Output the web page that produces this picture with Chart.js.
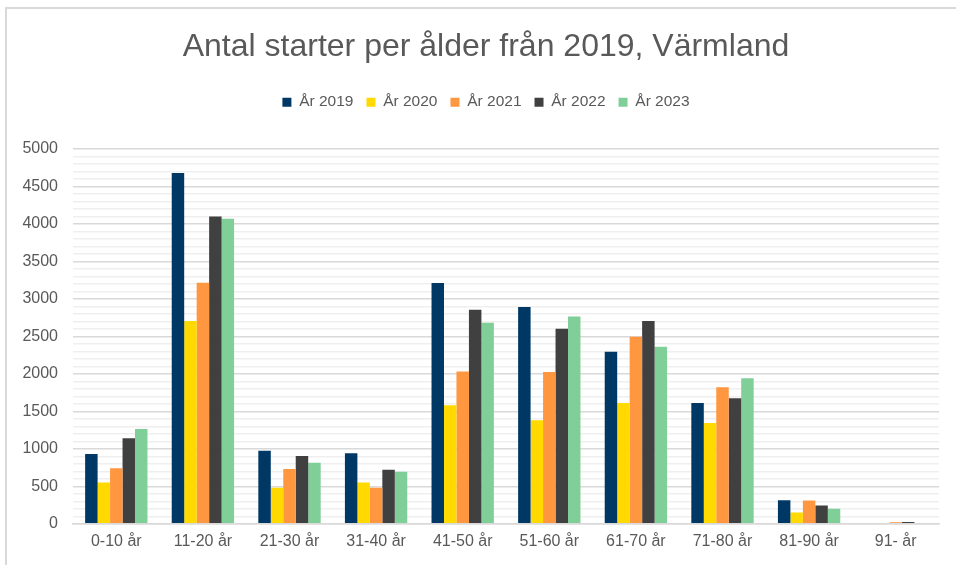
<!DOCTYPE html>
<html>
<head>
<meta charset="utf-8">
<script src="https://cdn.jsdelivr.net/npm/chart.js@4/dist/chart.umd.min.js"></script>
<style>
  html, body { margin: 0; padding: 0; background: #fff; overflow: hidden; }
  #frame { position: absolute; left: 5px; top: 7px; width: 1000px; height: 600px;
           border-left: 2px solid #d9d9d9; border-top: 2px solid #d9d9d9; }
  #c { position: absolute; left: 0; top: 0; }
</style>
</head>
<body>
<div id="frame"></div>
<canvas id="c" width="956" height="565"></canvas>
<script>
// Åldersgrupper och antal starter per år
const categories = ['0-10 år', '11-20 år', '21-30 år', '31-40 år', '41-50 år', '51-60 år', '61-70 år', '71-80 år', '81-90 år', '91- år'];
const seriesNames = ['År 2019', 'År 2020', 'År 2021', 'År 2022', 'År 2023'];
const y2019 = [930, 4680, 975, 940, 3210, 2890, 2295, 1610, 315, 0];
const y2020 = [550, 2705, 480, 550, 1580, 1380, 1610, 1345, 150, 0];
const y2021 = [740, 3215, 730, 480, 2030, 2025, 2495, 1820, 310, 20];
const y2022 = [1140, 4100, 905, 720, 2855, 2600, 2705, 1675, 245, 25];
const y2023 = [1265, 4070, 815, 695, 2680, 2765, 2360, 1940, 200, 10];
const colors = ['#003865', '#ffd900', '#ff9640', '#404040', '#80cf98'];

const textColor = '#595959';
const fontFamily = '"Liberation Sans", Arial, sans-serif';

// extra luft under legenden + låt y-etiketterna rita utanför padding
const layoutTweaks = {
    id: 'layoutTweaks',
    beforeInit(chart) {
        const fit = chart.legend.fit;
        chart.legend.fit = function () {
            fit.bind(chart.legend)();
            this.height += 29;
        };
    },
    afterLayout(chart) {
        chart.scales.y.left = 0; // annars klipps etiketterna
    }
};

new Chart(document.getElementById('c'), {
    type: 'bar',
    data: {
        labels: categories,
        datasets: [y2019, y2020, y2021, y2022, y2023].map((d, i) => ({
            label: seriesNames[i],
            data: d,
            backgroundColor: colors[i],
            borderWidth: 0,
            categoryPercentage: 0.72,
            barPercentage: 1
        }))
    },
    options: {
        responsive: false,
        animation: false,
        // titel och legend centreras som i originalet (diagramytan går utanför bilden)
        layout: { padding: { left: 33, right: 17, top: 0, bottom: 6 } },
        plugins: {
            title: {
                display: true,
                text: 'Antal starter per ålder från 2019, Värmland',
                color: textColor,
                font: { family: fontFamily, size: 32, weight: 'normal' },
                padding: { top: 28, bottom: 15 }
            },
            legend: {
                position: 'top',
                labels: {
                    color: textColor,
                    font: { family: fontFamily, size: 15.5 },
                    boxWidth: 9,
                    boxHeight: 9,
                    padding: 13
                }
            },
            tooltip: { enabled: false }
        },
        scales: {
            x: {
                grid: { display: false, drawTicks: false },
                border: { display: true, color: '#d9d9d9', width: 1.5 },
                ticks: { color: textColor, font: { family: fontFamily, size: 16 }, padding: 8, autoSkip: false, maxRotation: 0 }
            },
            y: {
                min: 0,
                max: 5000,
                border: { display: false },
                afterFit: scale => { scale.width = 40; },
                grid: {
                    drawTicks: false,
                    lineWidth: 1.5,
                    color: ctx => (ctx.tick && ctx.tick.value % 500 === 0) ? '#d9d9d9' : '#efefef'
                },
                ticks: {
                    stepSize: 100,
                    autoSkip: false,
                    padding: 15,
                    color: textColor,
                    font: { family: fontFamily, size: 16 },
                    callback: v => (v % 500 === 0 ? v : '')
                }
            }
        }
    },
    plugins: [layoutTweaks]
});
</script>
</body>
</html>
